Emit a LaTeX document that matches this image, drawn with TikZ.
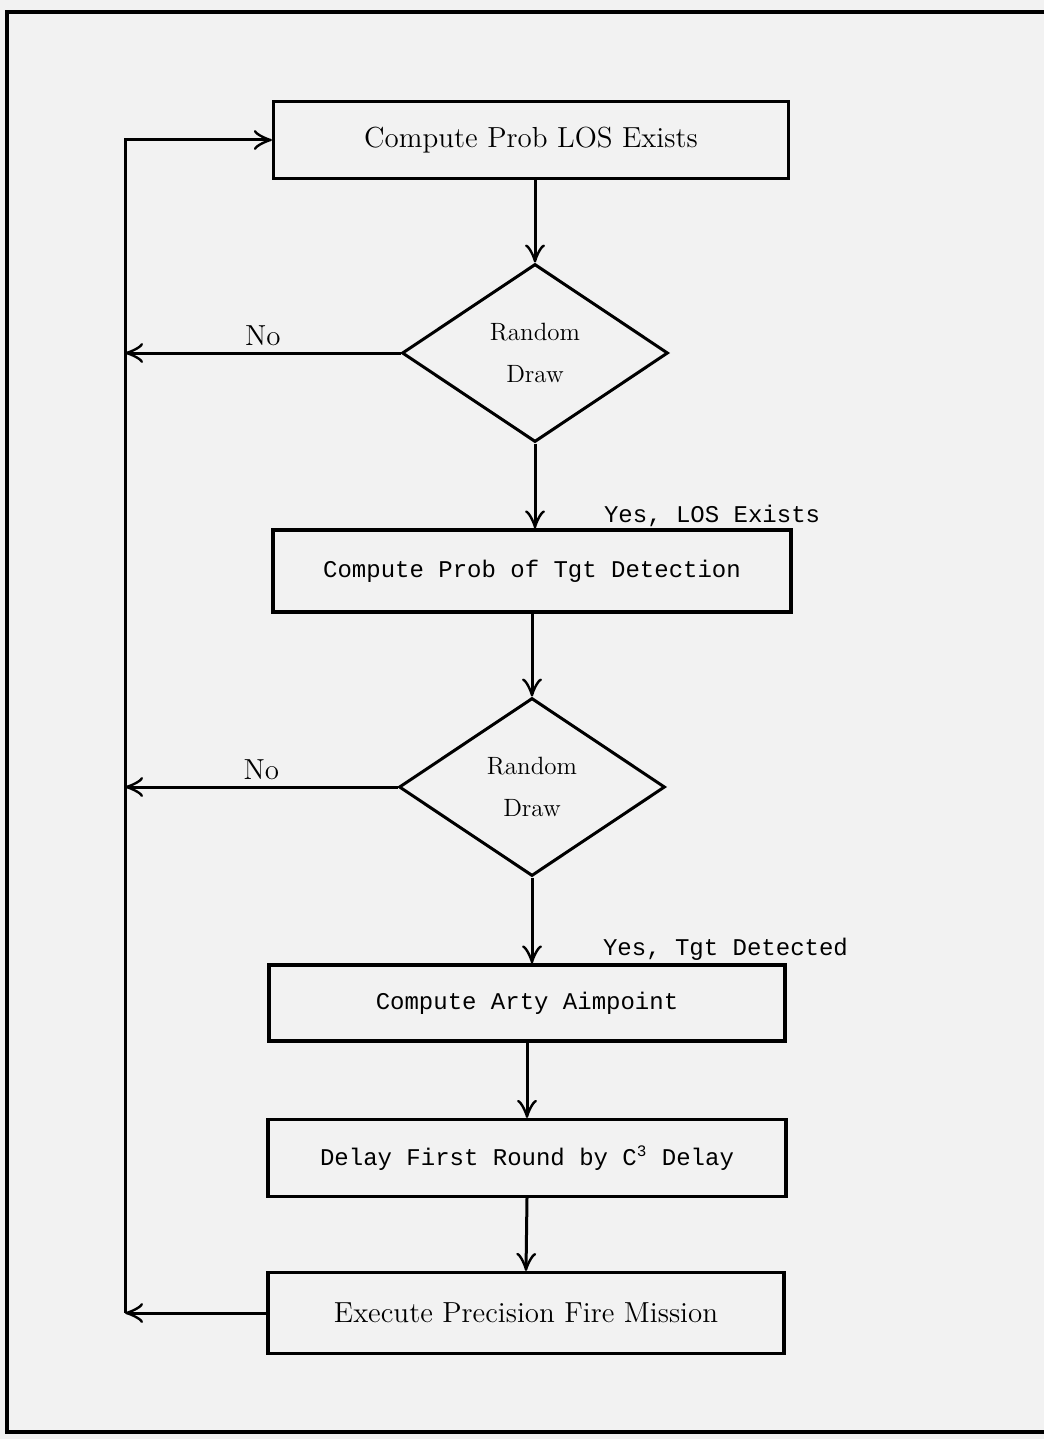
\documentclass[tikz,border=0pt]{standalone}
\usepackage{fontspec}
\setmonofont{Liberation Mono}
\usetikzlibrary{shapes.geometric,arrows.meta}

\begin{document}
\begin{tikzpicture}[
    x=0.5pt,
    y=-0.5pt,
    >={Classical TikZ Rightarrow[length=9pt,width=10pt]},
    box/.style={draw, line width=1.6pt, minimum width=258pt,
        minimum height=39pt, inner sep=0pt},
    decide/.style={draw, diamond, line width=1.5pt, minimum width=133pt,
        minimum height=89pt, inner sep=0pt, align=center,
        font=\fontsize{12.5}{21}\selectfont},
    link/.style={->, line width=1.5pt},
    serif/.style={font=\fontsize{14.5}{17}\selectfont},
    typed/.style={font=\ttfamily\fontsize{12}{14}\selectfont}
]

    %------------------------------------------------
    % Page and frame
    %------------------------------------------------

    \useasboundingbox (0,0) rectangle (1044,1439);
    \fill[black!5] (0,0) rectangle (1044,1439);

    \draw[line width=2.2pt]
        (1044,12)--(7,12)--(7,1432)--(1044,1432);

    %------------------------------------------------
    % Steps
    %------------------------------------------------

    \node[box, serif, minimum width=257.5pt, minimum height=38.5pt]
        (los) at (531,140) {Compute Prob LOS Exists};

    \node[decide] (draw1) at (535,353) {Random\\Draw};

    \node[box, typed, minimum width=259pt, minimum height=41pt]
        (detect) at (532,571) {Compute Prob of Tgt Detection};

    \node[decide] (draw2) at (532,787) {Random\\Draw};

    \node[box, typed, minimum height=38pt]
        (aim) at (527,1003) {Compute Arty Aimpoint};

    \node[box, typed, minimum width=259pt, minimum height=38.5pt]
        (delay) at (527,1158) {Delay First Round by C\textsuperscript{3} Delay};

    \node[box, serif, minimum height=40.5pt]
        (fire) at (526,1313) {Execute Precision Fire Mission};

    %------------------------------------------------
    % Flow down
    %------------------------------------------------

    \draw[link] (draw1.north |- los.south) -- (draw1.north);
    \draw[link] (draw1.south) -- (draw1.south |- detect.north);
    \draw[link] (draw2.north |- detect.south) -- (draw2.north);
    \draw[link] (draw2.south) -- (draw2.south |- aim.north);
    \draw[link] (aim.south) -- (delay.north);
    \draw[link] (delay.south) -- (fire.north);

    \node[typed, anchor=base west]
        (yeslos) at ([shift={(31pt,3pt)}]draw1.south |- detect.north)
        {Yes, LOS Exists};

    \node[typed, anchor=base west]
        (yestgt) at ([shift={(32pt,4pt)}]draw2.south |- aim.north)
        {Yes, Tgt Detected};

    %------------------------------------------------
    % Return rail
    %------------------------------------------------

    \coordinate (rail) at (125,0);

    \draw[link] (draw1.west) -- node[above, inner sep=3pt, serif]{No}
        (draw1.west -| rail);

    \draw[link] (draw2.west) -- node[above, inner sep=3pt, serif]{No}
        (draw2.west -| rail);

    \draw[link] (fire.west) -- (fire.west -| rail);

    \draw[link]
        (fire.west -| rail) -- (los.west -| rail) -- (los.west);

\end{tikzpicture}
\end{document}
